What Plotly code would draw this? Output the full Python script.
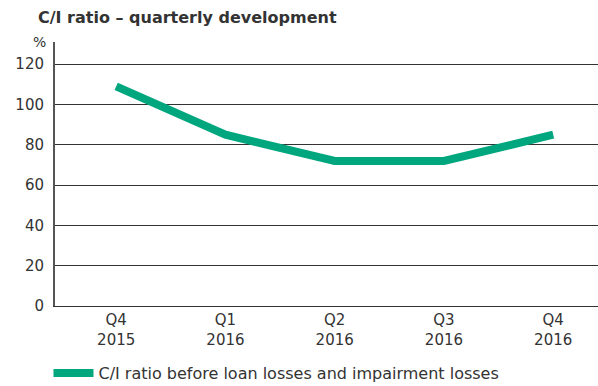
import plotly.graph_objects as go

categories = ["Q4<br>2015", "Q1<br>2016", "Q2<br>2016", "Q3<br>2016", "Q4<br>2016"]
ci_ratio = [109, 85, 72, 72, 85]
series_name = "C/I ratio before loan losses and impairment losses"
y_ticks = [0, 20, 40, 60, 80, 100, 120]

FONT = "DejaVu Sans"
GREEN = "#00A67E"
DARK = "#333333"

fig = go.Figure()
fig.add_trace(go.Scatter(
    x=categories, y=ci_ratio, mode="lines", name=series_name,
    line=dict(color=GREEN, width=8),
))

fig.update_layout(
    width=598, height=386,
    margin=dict(l=55, r=0, t=42, b=80, autoexpand=False),
    paper_bgcolor="white", plot_bgcolor="white",
    font=dict(family=FONT, size=15, color=DARK),
    title=dict(text="<b>C/I ratio – quarterly development</b>", x=0, xref="paper",
               xanchor="left", y=0.955, yanchor="middle", pad=dict(l=-17),
               font=dict(family=FONT, size=16, color=DARK)),
    showlegend=True,
    legend=dict(orientation="h", x=-0.012, xanchor="left", y=-0.19, yanchor="top",
                font=dict(family=FONT, size=16, color=DARK), itemwidth=40),
    xaxis=dict(type="category", range=[-0.56, 4.41], showgrid=False, showline=True,
               linecolor=DARK, linewidth=1, ticks="", tickfont=dict(size=15, color=DARK)),
    yaxis=dict(range=[0, 131], tickvals=y_ticks, showgrid=True, gridcolor=DARK, gridwidth=1,
               showline=True, linecolor="#555555", linewidth=2, ticks="", zeroline=False,
               tickfont=dict(size=15, color=DARK), ticklabelstandoff=6),
    annotations=[dict(text="%", xref="paper", yref="paper", x=0, y=1, xanchor="right",
                      yanchor="middle", xshift=-7, showarrow=False,
                      font=dict(family=FONT, size=14, color=DARK))],
)

fig.write_html("out.html")
